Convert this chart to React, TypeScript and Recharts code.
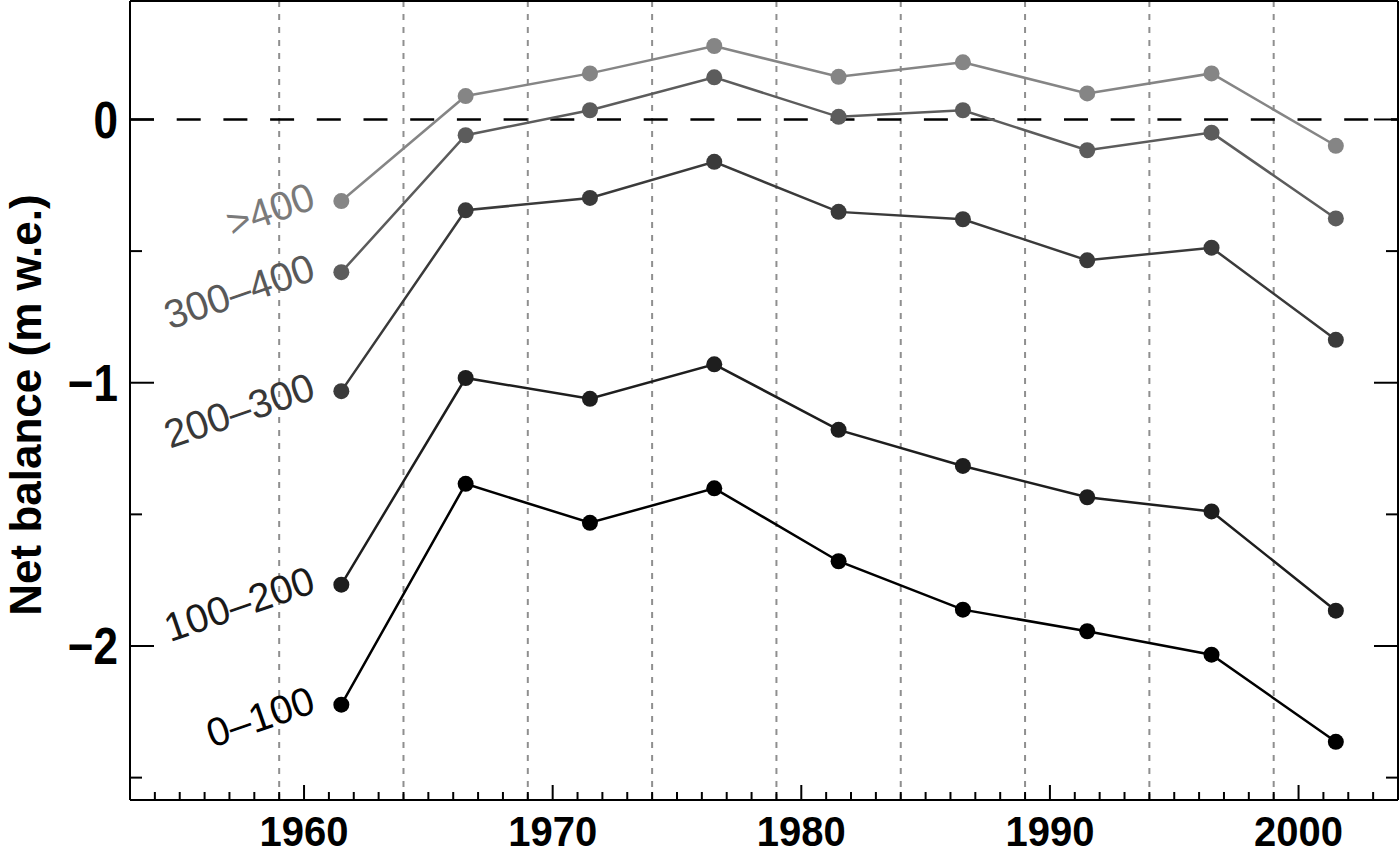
import { LineChart, Line, XAxis, YAxis, ReferenceLine } from "recharts";

// pentad mid-years
const years = [1961.5, 1966.5, 1971.5, 1976.5, 1981.5, 1986.5, 1991.5, 1996.5, 2001.5];

// net balance (m w.e.) by altitude band
const above400 = [-0.31, 0.089, 0.175, 0.279, 0.162, 0.217, 0.099, 0.175, -0.1];
const band300to400 = [-0.58, -0.06, 0.035, 0.16, 0.01, 0.035, -0.117, -0.05, -0.376];
const band200to300 = [-1.032, -0.345, -0.298, -0.161, -0.351, -0.379, -0.535, -0.487, -0.837];
const band100to200 = [-1.767, -0.982, -1.061, -0.93, -1.179, -1.316, -1.435, -1.489, -1.866];
const band0to100 = [-2.223, -1.384, -1.532, -1.401, -1.678, -1.862, -1.944, -2.033, -2.364];

const pentadEdges = [1959, 1964, 1969, 1974, 1979, 1984, 1989, 1994, 1999];
const yearTicks = Array.from({ length: 52 }, (_, i) => 1953 + i);
const yTicks = [0, -0.5, -1, -1.5, -2, -2.5];
const yTickText: Record<string, string> = { "0": "0", "-1": "\u22121", "-2": "\u22122" };

const FONT = '"Liberation Sans", Arial, Helvetica, sans-serif';
const X_DOMAIN = [1953, 2004];
const Y_DOMAIN = [-2.585, 0.45];

const series = [
  { key: "a400", name: ">400", values: above400, color: "#858585", text: "#7a7a7a" },
  { key: "a300", name: "300\u2013400", values: band300to400, color: "#5c5c5c", text: "#595959" },
  { key: "a200", name: "200\u2013300", values: band200to300, color: "#3a3a3a", text: "#383838" },
  { key: "a100", name: "100\u2013200", values: band100to200, color: "#1e1e1e", text: "#1a1a1a" },
  { key: "a0", name: "0\u2013100", values: band0to100, color: "#000000", text: "#000000" },
];

const data = years.map((year, i) => {
  const row: any = { year };
  series.forEach((s) => (row[s.key] = s.values[i]));
  return row;
});

const BottomTick = ({ x, y, payload }: any) => {
  const major = payload.value % 10 === 0;
  return (
    <g>
      <line x1={x} x2={x} y1={y} y2={y - (major ? 15 : 8)} stroke="#000" strokeWidth={2} />
      {major && (
        <g transform={`translate(${x},${y + 46}) scale(1,1.08)`}>
          <text x={0} y={0} textAnchor="middle" fontSize={40} fontWeight="bold" fontFamily={FONT} fill="#000">
            {payload.value}
          </text>
        </g>
      )}
    </g>
  );
};

const TopTick = ({ x, y, payload }: any) => {
  const major = payload.value % 10 === 0;
  return <line x1={x} x2={x} y1={y} y2={y + (major ? 17 : 8)} stroke="#000" strokeWidth={2} />;
};

const LeftTick = ({ x, y, payload }: any) => {
  const label = yTickText[String(payload.value)];
  return (
    <g>
      <line x1={x} x2={x + (label ? 24 : 12)} y1={y} y2={y} stroke="#000" strokeWidth={2} />
      {label && (
        <g transform={`translate(${x - 12},${y}) scale(1,1.16)`}>
          <text x={0} y={15.8} textAnchor="end" fontSize={44} fontWeight="bold" fontFamily={FONT} fill="#000">
            {label}
          </text>
        </g>
      )}
    </g>
  );
};

const RightTick = ({ x, y, payload }: any) => {
  const major = yTickText[String(payload.value)] !== undefined;
  return <line x1={x} x2={x - (major ? 24 : 12)} y1={y} y2={y} stroke="#000" strokeWidth={2} />;
};

const yTitle = () => (
  <text
    transform="translate(41,405) rotate(-90)"
    textAnchor="middle"
    fontSize={44}
    fontWeight="bold"
    fontFamily={FONT}
    fill="#000"
  >
    Net balance (m w.e.)
  </text>
);

const makeDot = (s: any) => (props: any) => {
  const { cx, cy, index } = props;
  return (
    <g key={`${s.key}-dot-${index}`}>
      <circle cx={cx} cy={cy} r={8} fill={s.color} />
      {index === 0 && (
        <text
          transform={`translate(${cx - 24},${cy + 7}) rotate(-19)`}
          textAnchor="end"
          fontSize={40}
          fontFamily={FONT}
          fill={s.text}
        >
          {s.name}
        </text>
      )}
    </g>
  );
};

export default function App() {
  const axisLine = { stroke: "#000", strokeWidth: 2 };
  return (
    <div style={{ position: "absolute", left: 0, top: 0, width: 1400, height: 848, background: "#fff" }}>
      <LineChart width={1400} height={848} data={data} margin={{ top: 0, right: 0, bottom: 0, left: 0 }}>
        <XAxis
          xAxisId="bottom"
          dataKey="year"
          type="number"
          domain={X_DOMAIN}
          ticks={yearTicks}
          interval={0}
          height={48}
          tickSize={0}
          tickMargin={0}
          tickLine={false}
          axisLine={axisLine}
          tick={<BottomTick />}
          allowDataOverflow
        />
        <XAxis
          xAxisId="top"
          orientation="top"
          type="number"
          domain={X_DOMAIN}
          ticks={yearTicks}
          interval={0}
          height={1}
          tickSize={0}
          tickMargin={0}
          tickLine={false}
          axisLine={axisLine}
          tick={<TopTick />}
          allowDataOverflow
        />
        <YAxis
          yAxisId="left"
          type="number"
          domain={Y_DOMAIN}
          ticks={yTicks}
          interval={0}
          width={130}
          tickSize={0}
          tickMargin={0}
          tickLine={false}
          axisLine={axisLine}
          tick={<LeftTick />}
          label={yTitle}
          allowDataOverflow
        />
        <YAxis
          yAxisId="right"
          orientation="right"
          type="number"
          domain={Y_DOMAIN}
          ticks={yTicks}
          interval={0}
          width={2}
          tickSize={0}
          tickMargin={0}
          tickLine={false}
          axisLine={axisLine}
          tick={<RightTick />}
          allowDataOverflow
        />
        {pentadEdges.map((yr) => (
          <ReferenceLine
            key={yr}
            xAxisId="bottom"
            yAxisId="left"
            x={yr}
            stroke="#8f8f8f"
            strokeWidth={2}
            strokeDasharray="6 7"
          />
        ))}
        <ReferenceLine
          xAxisId="bottom"
          yAxisId="left"
          y={0}
          stroke="#000"
          strokeWidth={2.5}
          strokeDasharray="24 22.7"
        />
        {series.map((s) => (
          <Line
            key={s.key}
            xAxisId="bottom"
            yAxisId="left"
            dataKey={s.key}
            type="linear"
            stroke={s.color}
            strokeWidth={2.5}
            dot={makeDot(s)}
            activeDot={false}
            isAnimationActive={false}
          />
        ))}
      </LineChart>
    </div>
  );
}
